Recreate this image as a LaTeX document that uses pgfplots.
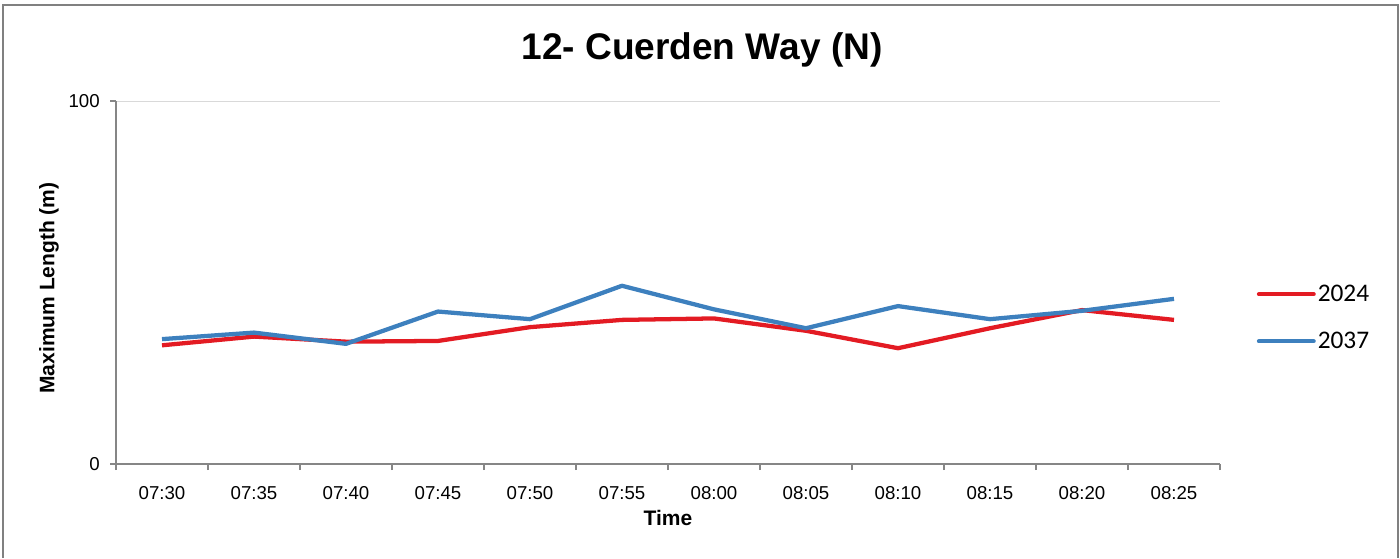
\documentclass[border=0pt]{standalone}
\usepackage{pgfplots}
\pgfplotsset{compat=1.18}
\usepackage{fontspec}
\setmainfont{Liberation Sans}
\newfontfamily\calibri{Carlito}
\definecolor{sred}{RGB}{227,27,35}
\definecolor{sblue}{RGB}{61,128,190}
\definecolor{axgray}{RGB}{134,134,134}
\definecolor{framegray}{RGB}{128,128,128}
\definecolor{gridgray}{RGB}{217,217,217}
\begin{document}
\begin{tikzpicture}
\useasboundingbox (0pt,0pt) rectangle (1050pt,418.5pt);
\draw[framegray, line width=1.5pt] (2.25pt,0pt) -- (2.25pt,414.75pt) -- (1048.5pt,414.75pt) -- (1048.5pt,0pt);
\node[anchor=base, font=\bfseries\fontsize{27.8}{32}\selectfont] at (526.5pt,373.5pt) {12- Cuerden Way (N)};
\node[anchor=base, font=\bfseries\fontsize{15.75}{18}\selectfont] at (501pt,24.75pt) {Time};
\node[rotate=90, anchor=center, font=\bfseries\fontsize{15.75}{18}\selectfont] at (36.75pt,202.5pt) {Maximum Length (m)};
\begin{axis}[
  at={(87pt,70.5pt)}, anchor=south west,
  scale only axis, width=828pt, height=272.25pt,
  xmin=-0.5, xmax=11.5, ymin=0, ymax=100,
  xtick={0,...,11},
  xticklabels={07:30,07:35,07:40,07:45,07:50,07:55,08:00,08:05,08:10,08:15,08:20,08:25},
  major x tick style={draw=none},
  minor xtick={-0.5,0.5,...,11.5},
  ytick={0,100},
  tick align=outside,
  major tick length=4.5pt, minor tick length=4.5pt,
  axis x line*=bottom, axis y line*=left,
  axis line style={axgray, line width=1pt},
  tick style={axgray, line width=1pt},
  ymajorgrids, grid style={gridgray, line width=0.75pt},
  /pgf/number format/assume math mode=true,
  ticklabel style={font=\fontsize{14}{16}\selectfont},
  xticklabel style={anchor=base, inner sep=0pt, yshift=-22pt},
  yticklabel style={anchor=east, inner sep=0pt, xshift=-7.5pt},
  legend style={draw=none, fill=none, at={(1.0295,0.4030)}, anchor=west,
    font=\calibri\fontsize{19}{22}\selectfont, row sep=21.5pt,
    nodes={inner sep=0pt}, cells={anchor=west}},
  legend image code/.code={\draw[#1, line cap=round] (0pt,0pt) -- (41pt,0pt);},
  legend cell align=left,
]
\addplot[sred, line width=3.2pt, line join=round] coordinates {
 (0,32.7) (1,35.1) (2,33.7) (3,33.9) (4,37.7) (5,39.7) (6,40.1) (7,36.7) (8,31.9) (9,37.4) (10,42.4) (11,39.7)};
\addlegendentry{\hspace{1.5pt}2024}
\addplot[sblue, line width=3.2pt, line join=round] coordinates {
 (0,34.4) (1,36.2) (2,33.1) (3,42.0) (4,39.9) (5,49.1) (6,42.6) (7,37.4) (8,43.5) (9,39.9) (10,42.2) (11,45.5)};
\addlegendentry{\hspace{1.5pt}2037}
\end{axis}
\end{tikzpicture}
\end{document}
